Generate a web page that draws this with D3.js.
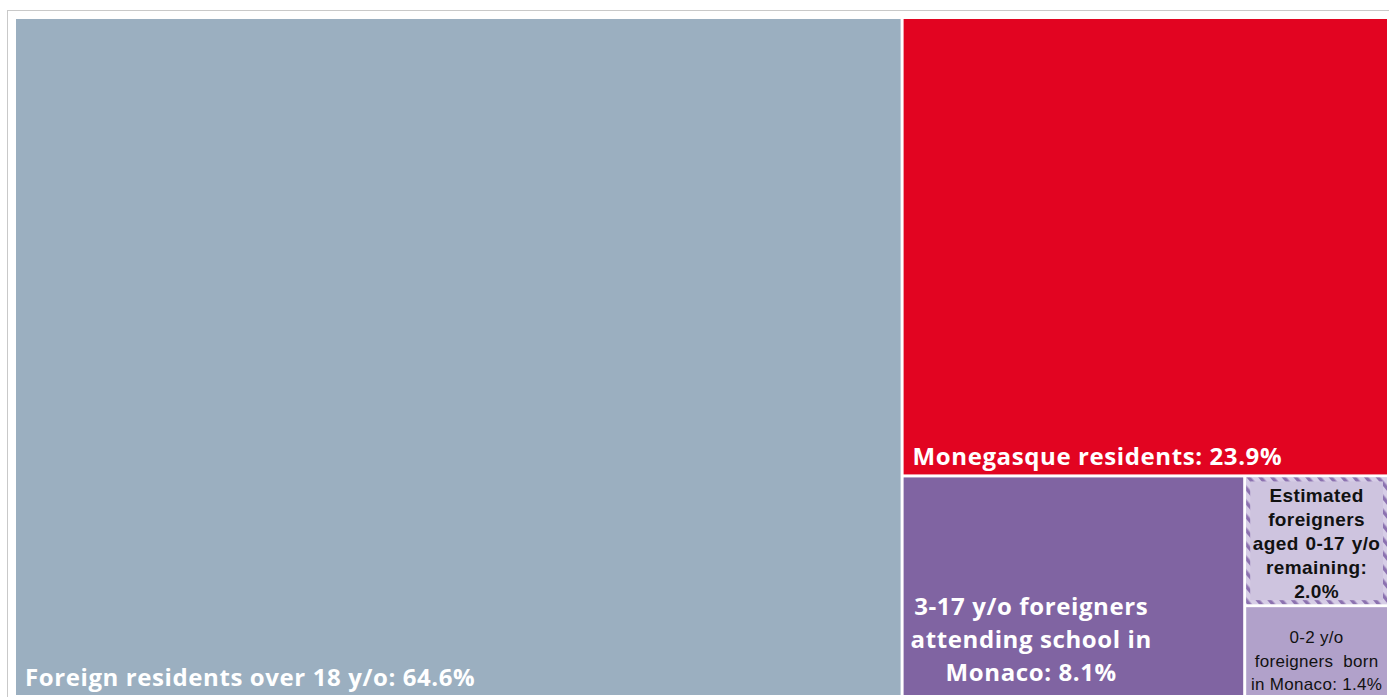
<!DOCTYPE html>
<html>
<head>
<meta charset="utf-8">
<script src="https://cdn.jsdelivr.net/npm/d3@7"></script>
<style>
  html, body { margin: 0; padding: 0; background: #fff; }
  svg { display: block; }
</style>
</head>
<body>
<svg id="chart" width="1389" height="697"></svg>
<script>
// ---- Data ----
const categories = [
  "Foreign residents over 18 y/o",
  "Monegasque residents",
  "3-17 y/o foreigners attending school in Monaco",
  "Estimated foreigners aged 0-17 y/o remaining",
  "0-2 y/o foreigners born in Monaco"
];
const shares = [64.6, 23.9, 8.1, 2.0, 1.4];
const labelLines = [
  ["Foreign residents over 18 y/o: 64.6%"],
  ["Monegasque residents: 23.9%"],
  ["3-17 y/o foreigners", "attending school in", "Monaco: 8.1%"],
  ["Estimated", "foreigners", "aged 0-17 y/o", "remaining:", "2.0%"],
  ["0-2 y/o", "foreigners  born", "in Monaco: 1.4%"]
];
const colors = ["#9BAFC0", "#E20421", "#8064A2", "#CEC4DF", "#B1A1CA"];

// ---- Build nested hierarchy (each remainder nested) ----
function buildNode(i) {
  const leaf = { name: categories[i], value: shares[i], idx: i };
  if (i === categories.length - 1) return leaf;
  return { children: [leaf, buildNode(i + 1)] };
}
const rootData = buildNode(0);

const svg = d3.select("#chart");

// outer frame
svg.append("rect")
  .attr("x", 7.5).attr("y", 10.5)
  .attr("width", 1420).attr("height", 720)
  .attr("fill", "none").attr("stroke", "#c9c9c9").attr("stroke-width", 1);

const root = d3.hierarchy(rootData)
  .sum(d => d.children ? 0 : d.value);

d3.treemap()
  .tile(d3.treemapSliceDice)
  .size([1371, 676])
  .paddingInner(3)
  (root);

const g = svg.append("g").attr("transform", "translate(16,19)");

// hatch pattern for estimated cell border
const defs = svg.append("defs");
const pat = defs.append("pattern")
  .attr("id", "hatch")
  .attr("patternUnits", "userSpaceOnUse")
  .attr("width", 9).attr("height", 9)
  .attr("patternTransform", "rotate(-40)");
pat.append("rect").attr("width", 9).attr("height", 9).attr("fill", "#D6CDE6");
pat.append("rect").attr("x", 0).attr("y", 0).attr("width", 3.5).attr("height", 9).attr("fill", "#8C72B0");

const leaves = root.leaves();

const cell = g.selectAll("g.cell").data(leaves).join("g").attr("class", "cell");

cell.append("rect")
  .attr("x", d => d.x0).attr("y", d => d.y0)
  .attr("width", d => d.x1 - d.x0).attr("height", d => d.y1 - d.y0)
  .attr("fill", d => colors[d.data.idx]);

// hatched border for the estimated cell
cell.filter(d => d.data.idx === 3).append("rect")
  .attr("x", d => d.x0 + 2).attr("y", d => d.y0 + 2)
  .attr("width", d => d.x1 - d.x0 - 4).attr("height", d => d.y1 - d.y0 - 4)
  .attr("fill", "none")
  .attr("stroke", "url(#hatch)")
  .attr("stroke-width", 4);

const bigFont = "'Open Sans', 'Noto Sans', sans-serif";
const smallFont = "'Liberation Sans', Arial, sans-serif";

// Labels
leaves.forEach(d => {
  const i = d.data.idx;
  const lines = labelLines[i];
  const cg = g.append("g");
  if (i === 0 || i === 1) {
    cg.append("text")
      .attr("x", d.x0 + 9)
      .attr("y", d.y1 - 9)
      .attr("fill", "#fff")
      .attr("font-family", bigFont)
      .attr("font-weight", 700)
      .attr("font-size", 24)
      .attr("letter-spacing", 0.6)
      .text(lines[0]);
  } else if (i === 2) {
    const lh = 33;
    const t = cg.append("text")
      .attr("fill", "#fff")
      .attr("font-family", bigFont)
      .attr("font-weight", 700)
      .attr("font-size", 24)
      .attr("letter-spacing", 0.6)
      .attr("text-anchor", "middle");
    const spans = lines.map((l, k) => t.append("tspan").text(l));
    const maxW = d3.max(spans, s => s.node().getComputedTextLength());
    const cx = d.x0 + 7 + maxW / 2;
    spans.forEach((s, k) => {
      s.attr("x", cx).attr("y", d.y1 - 14 - (lines.length - 1 - k) * lh);
    });
  } else if (i === 3) {
    const lh = 23.8;
    const cx = (d.x0 + d.x1) / 2;
    const t = cg.append("text")
      .attr("fill", "#111")
      .attr("font-family", smallFont)
      .attr("font-weight", 700)
      .attr("font-size", 19)
      .attr("letter-spacing", 0.4)
      .attr("word-spacing", 1)
      .attr("text-anchor", "middle");
    lines.forEach((l, k) => {
      t.append("tspan").attr("x", cx).attr("y", d.y0 + 25 + k * lh).text(l);
    });
  } else {
    const lh = 23.5;
    const cx = (d.x0 + d.x1) / 2;
    const t = cg.append("text")
      .attr("fill", "#111")
      .attr("font-family", smallFont)
      .attr("font-weight", 400)
      .attr("font-size", 17)
      .attr("letter-spacing", 0.3)
      .attr("text-anchor", "middle")
      .style("white-space", "pre");
    lines.forEach((l, k) => {
      t.append("tspan").attr("x", cx).attr("y", d.y0 + 36 + k * lh).text(l);
    });
  }
});
</script>
</body>
</html>
